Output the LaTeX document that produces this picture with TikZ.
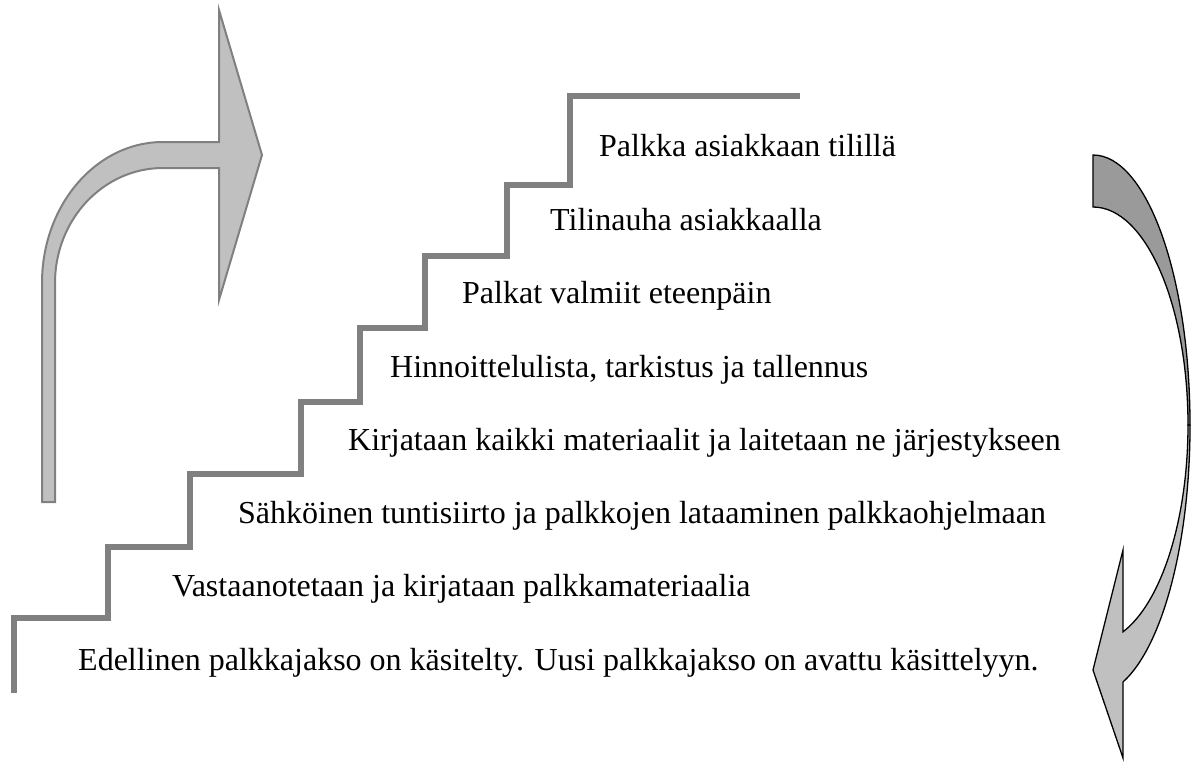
\documentclass[tikz,border=0pt]{standalone}
\usepackage{fontspec}
\setmainfont{Liberation Serif}
\definecolor{stairgray}{HTML}{808080}
\definecolor{arrgray}{HTML}{808080}
\definecolor{lightfill}{HTML}{C0C0C0}
\definecolor{darkfill}{HTML}{9A9A9A}
\begin{document}
\begin{tikzpicture}[x=1pt,y=-1pt,
  stair/.style={draw=stairgray,line width=6pt,line join=miter,line cap=butt},
  lbl/.style={anchor=base west,inner sep=0pt,font=\fontsize{32}{38}\selectfont},
  uparrow/.style={draw=arrgray,line width=2pt,fill=lightfill,line join=miter},
  darr/.style={draw=black,line width=1.3pt,line join=miter}]
\useasboundingbox (0,0) rectangle (1192,761);

% staircase
\draw[stair] (14,693) -- (14,618) -- (108,618) -- (108,547) -- (190,547) -- (190,474)
  -- (301,474) -- (301,402) -- (360,402) -- (360,328) -- (425,328) -- (425,256)
  -- (507,256) -- (507,185) -- (570,185) -- (570,96) -- (800,96);

% left bent-up arrow
\draw[uparrow] (42,502) -- (42,283)
  arc[start angle=180,end angle=270,x radius=121,y radius=141]
  -- (219,142) -- (219,10) -- (262,155) -- (219,300) -- (219,168) -- (163,168)
  arc[start angle=270,end angle=180,x radius=108,y radius=115]
  -- (55,502) -- cycle;

% right curved arrow
\draw[darr,fill=lightfill] (1123,550) -- (1093,670) -- (1123,758) -- (1123,682)
  arc[start angle=72,end angle=0,x radius=97,y radius=270]
  -- (1188,425)
  arc[start angle=0,end angle=71.6,x radius=95,y radius=218]
  -- cycle;
\draw[darr,fill=darkfill] (1093,155)
  arc[start angle=-90,end angle=0,x radius=97,y radius=270]
  -- (1188,425)
  arc[start angle=0,end angle=-90,x radius=95,y radius=218]
  -- cycle;

% step labels
\node[lbl] (s8) at (78,670) {Edellinen palkkajakso on käsitelty. Uusi palkkajakso on avattu käsittelyyn.};
\node[lbl] (s7) at (172,596.5) {Vastaanotetaan ja kirjataan palkkamateriaalia};
\node[lbl] (s6) at (238,523) {Sähköinen tuntisiirto ja palkkojen lataaminen palkkaohjelmaan};
\node[lbl] (s5) at (348,450) {Kirjataan kaikki materiaalit ja laitetaan ne järjestykseen};
\node[lbl] (s4) at (390,377) {Hinnoittelulista, tarkistus ja tallennus};
\node[lbl] (s3) at (462,303) {Palkat valmiit eteenpäin};
\node[lbl] (s2) at (550,230) {Tilinauha asiakkaalla};
\node[lbl] (s1) at (599,156) {Palkka asiakkaan tilillä};
\end{tikzpicture}
\end{document}
